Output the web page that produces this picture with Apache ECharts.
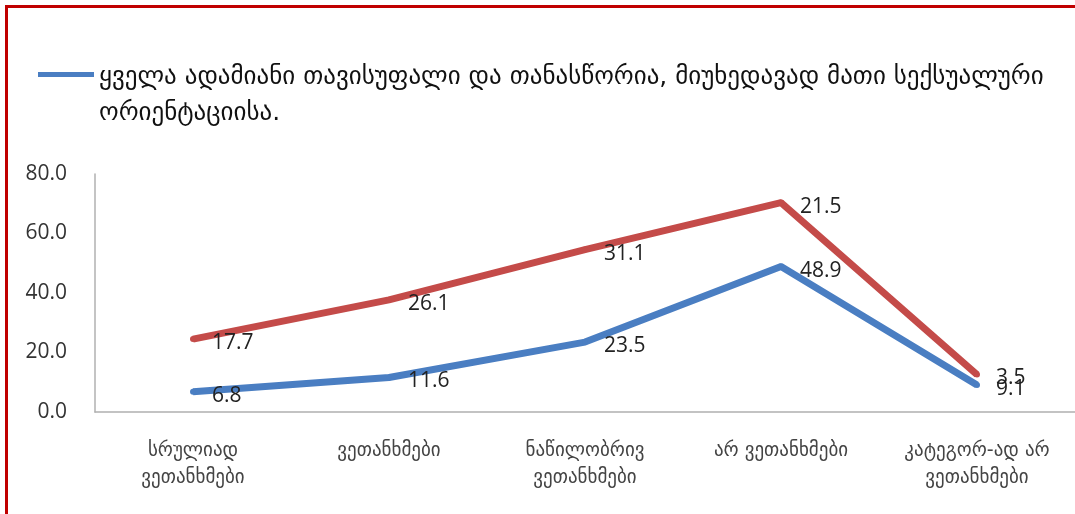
<!DOCTYPE html>
<html>
<head>
<meta charset="utf-8">
<script src="https://cdn.jsdelivr.net/npm/echarts@6/dist/echarts.min.js"></script>
<style>
    html, body{
        margin: 0;
        padding: 0;
        background: #fff;
    }
    .frame{
        position: absolute;
        left: 5px;
        top: 5px;
        width: 1075px;
        height: 514px;
        border-top: 3px solid #c00000;
        border-left: 3px solid #c00000;
        pointer-events: none;
    }
    #lineChart{
        position: absolute;
        left: 0;
        top: 0;
        width: 1075px;
        height: 514px;
    }
</style>
</head>
<body>
<div id="lineChart"></div>
<div class="frame"></div>
<script>
    // კატეგორიები (x ღერძი)
    const categories = [
        'სრულიად\nვეთანხმები',
        'ვეთანხმები',
        'ნაწილობრივ\nვეთანხმები',
        'არ ვეთანხმები',
        'კატეგორ-ად არ\nვეთანხმები'
    ];
    const blueName = 'ყველა ადამიანი თავისუფალი და თანასწორია, მიუხედავად მათი სექსუალური ორიენტაციისა.';
    const redName = 'სხვა';
    const blueValues = [6.8, 11.6, 23.5, 48.9, 9.1];
    const redValues = [17.7, 26.1, 31.1, 21.5, 3.5];
    const yTicks = [0, 20, 40, 60, 80];

    const georgian = "'DejaVu Sans', 'Noto Sans', sans-serif";
    const numFont = "'Open Sans', 'Noto Sans', sans-serif";

    // legend-ის ხაზი ზედა სტრიქონთან (უხილავი წერტილი ქვემოთ)
    const legendIcon = 'path://M0,0h56v5h-56z M0,45.99h0.01v0.01h-0.01z';

    let myChart = echarts.init(document.getElementById('lineChart'));
    myChart.setOption({
        animation: false,
        legend: {
            data: [blueName],
            left: 38,
            top: 59,
            padding: 0,
            icon: legendIcon,
            itemWidth: 56,
            itemHeight: 46,
            itemGap: 4,
            formatter: function (name) {
                return name.replace(' ორიენტაციისა', '\nორიენტაციისა');
            },
            textStyle: {
                fontFamily: georgian,
                fontSize: 25,
                color: '#111',
                lineHeight: 36
            }
        },
        grid: {
            left: 95,
            right: -8,
            top: 174,
            bottom: 102
        },
        xAxis: {
            type: 'category',
            data: categories,
            axisLine: { lineStyle: { color: '#b0b0b0', width: 1.5 } },
            axisTick: { show: false },
            axisLabel: {
                fontFamily: georgian,
                fontSize: 19,
                color: '#444',
                lineHeight: 27,
                margin: 26,
                interval: 0
            }
        },
        yAxis: {
            type: 'value',
            min: yTicks[0],
            max: yTicks[yTicks.length - 1],
            interval: 20,
            axisLine: { show: true, lineStyle: { color: '#b0b0b0', width: 1.5 } },
            axisTick: { show: false },
            splitLine: { show: false },
            axisLabel: {
                fontFamily: numFont,
                fontSize: 21,
                color: '#333',
                margin: 28,
                formatter: v => v.toFixed(1)
            }
        },
        series: [
            {
                name: blueName,
                type: 'line',
                stack: 'total',
                data: blueValues,
                symbol: 'circle',
                symbolSize: 6,
                color: '#4a7ec2',
                lineStyle: { width: 7, color: '#4a7ec2' },
                label: {
                    show: true,
                    position: 'right',
                    distance: 16,
                    offset: [0, 4],
                    fontFamily: numFont,
                    fontSize: 21,
                    color: '#222',
                    formatter: p => p.value.toFixed(1)
                }
            },
            {
                name: redName,
                type: 'line',
                stack: 'total',
                data: redValues,
                symbol: 'circle',
                symbolSize: 6,
                color: '#c44b49',
                lineStyle: { width: 7, color: '#c44b49' },
                label: {
                    show: true,
                    position: 'right',
                    distance: 16,
                    offset: [0, 4],
                    fontFamily: numFont,
                    fontSize: 21,
                    color: '#222',
                    formatter: p => p.value.toFixed(1)
                }
            }
        ]
    });
</script>
</body>
</html>
